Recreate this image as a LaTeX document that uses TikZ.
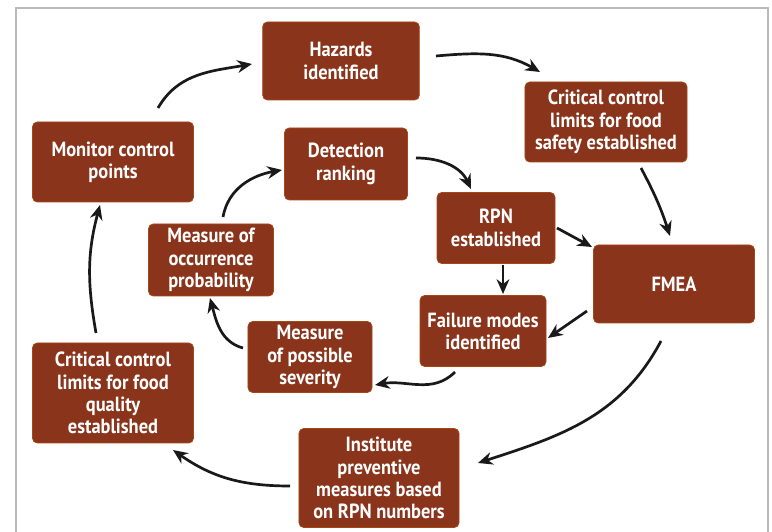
\documentclass[tikz,border=0pt]{standalone}
\usepackage{fontspec}
\setmainfont{PT Sans}[FakeStretch=0.9]
\usepackage{tikz}
\usetikzlibrary{positioning, arrows.meta}
\definecolor{boxred}{RGB}{138,52,27}

\tikzset{
  stagebox/.style={fill=boxred, draw=boxred!75!orange, line width=0.6pt, rounded corners=4pt,
    text=white, align=center, inner sep=2pt, font=\bfseries\fontsize{17.5}{19}\selectfont},
  flow/.style={-{Stealth[length=4.4mm,width=3.8mm]}, line width=2.3pt, black!90}
}

\begin{document}
\begin{tikzpicture}[x=0.03cm, y=0.03cm]
\clip (0,0) rectangle (772,532);
\fill[white] (0,0) rectangle (772,532);
\draw[gray!55, line width=1.2pt] (16,-20) rectangle (768,524);

% outer loop
\node[stagebox, minimum width=4.7cm, minimum height=2.34cm] (haz) at (341,471) {Hazards\\identified};
\node[stagebox, minimum width=4.86cm, minimum height=2.4cm] (safe) at (606,410) {Critical control\\limits for food\\safety established};
\node[stagebox, minimum width=4.83cm, minimum height=2.34cm] (fmea) at (674,248) {FMEA};
\node[stagebox, minimum width=4.8cm, minimum height=2.97cm] (inst) at (379,54) {Institute\\preventive\\measures based\\on RPN numbers};
\node[stagebox, minimum width=4.83cm, minimum height=3cm] (qual) at (113,139) {Critical control\\limits for food\\quality\\established};
\node[stagebox, minimum width=4.83cm, minimum height=2.4cm] (mon) at (113,370) {Monitor control\\points};

% inner loop
\node[stagebox, minimum width=3.69cm, minimum height=2.16cm] (det) at (346,368) {Detection\\ranking};
\node[stagebox, minimum width=3.54cm, minimum height=2.13cm] (rpn) at (496,304) {RPN\\established};
\node[stagebox, minimum width=3.78cm, minimum height=2.13cm] (fail) at (483,201) {Failure modes\\identified};
\node[stagebox, minimum width=3.72cm, minimum height=2.13cm] (sev) at (310,175) {Measure\\of possible\\severity};
\node[stagebox, minimum width=3.75cm, minimum height=2.16cm] (occ) at (211,272) {Measure of\\occurrence\\probability};

% outer arrows
\draw[flow] ([shift={(45,54)}]mon.center) to[out=60, in=190] ([shift={(-89,-3)}]haz.center);
\draw[flow] ([shift={(95,5)}]haz.center) to[out=5, in=150] ([shift={(-66,50)}]safe.center);
\draw[flow] ([shift={(35,-46)}]safe.center) to[out=-62, in=108] ([shift={(-4,48)}]fmea.center);
\draw[flow] ([shift={(-13,-57)}]fmea.center) to[out=-118, in=18] ([shift={(99,15)}]inst.center);
\draw[flow] ([shift={(-89,-8)}]inst.center) to[out=180, in=-35] ([shift={(60,-57)}]qual.center);
\draw[flow] ([shift={(-17,60)}]qual.center) to[out=100, in=-105] ([shift={(-13,-43)}]mon.center);

% inner arrows
\draw[flow] ([shift={(70,6)}]det.center) to[out=0, in=115] ([shift={(-25,39)}]rpn.center);
\draw[flow] ([shift={(61,0)}]rpn.center) -- ([shift={(-82,37)}]fmea.center);
\draw[flow] ([shift={(7,-37)}]rpn.center) -- ([shift={(20,37)}]fail.center);
\draw[flow] ([shift={(-87,-27)}]fmea.center) -- ([shift={(65,-7)}]fail.center);
\draw[flow] ([shift={(-28,-41)}]fail.center) to[out=-135, in=10] ([shift={(65,-28)}]sev.center);
\draw[flow] ([shift={(-67,9)}]sev.center) to[out=165, in=-75] ([shift={(-1,-38)}]occ.center);
\draw[flow] ([shift={(12,43)}]occ.center) to[out=80, in=190] ([shift={(-64,-6)}]det.center);
\end{tikzpicture}
\end{document}
